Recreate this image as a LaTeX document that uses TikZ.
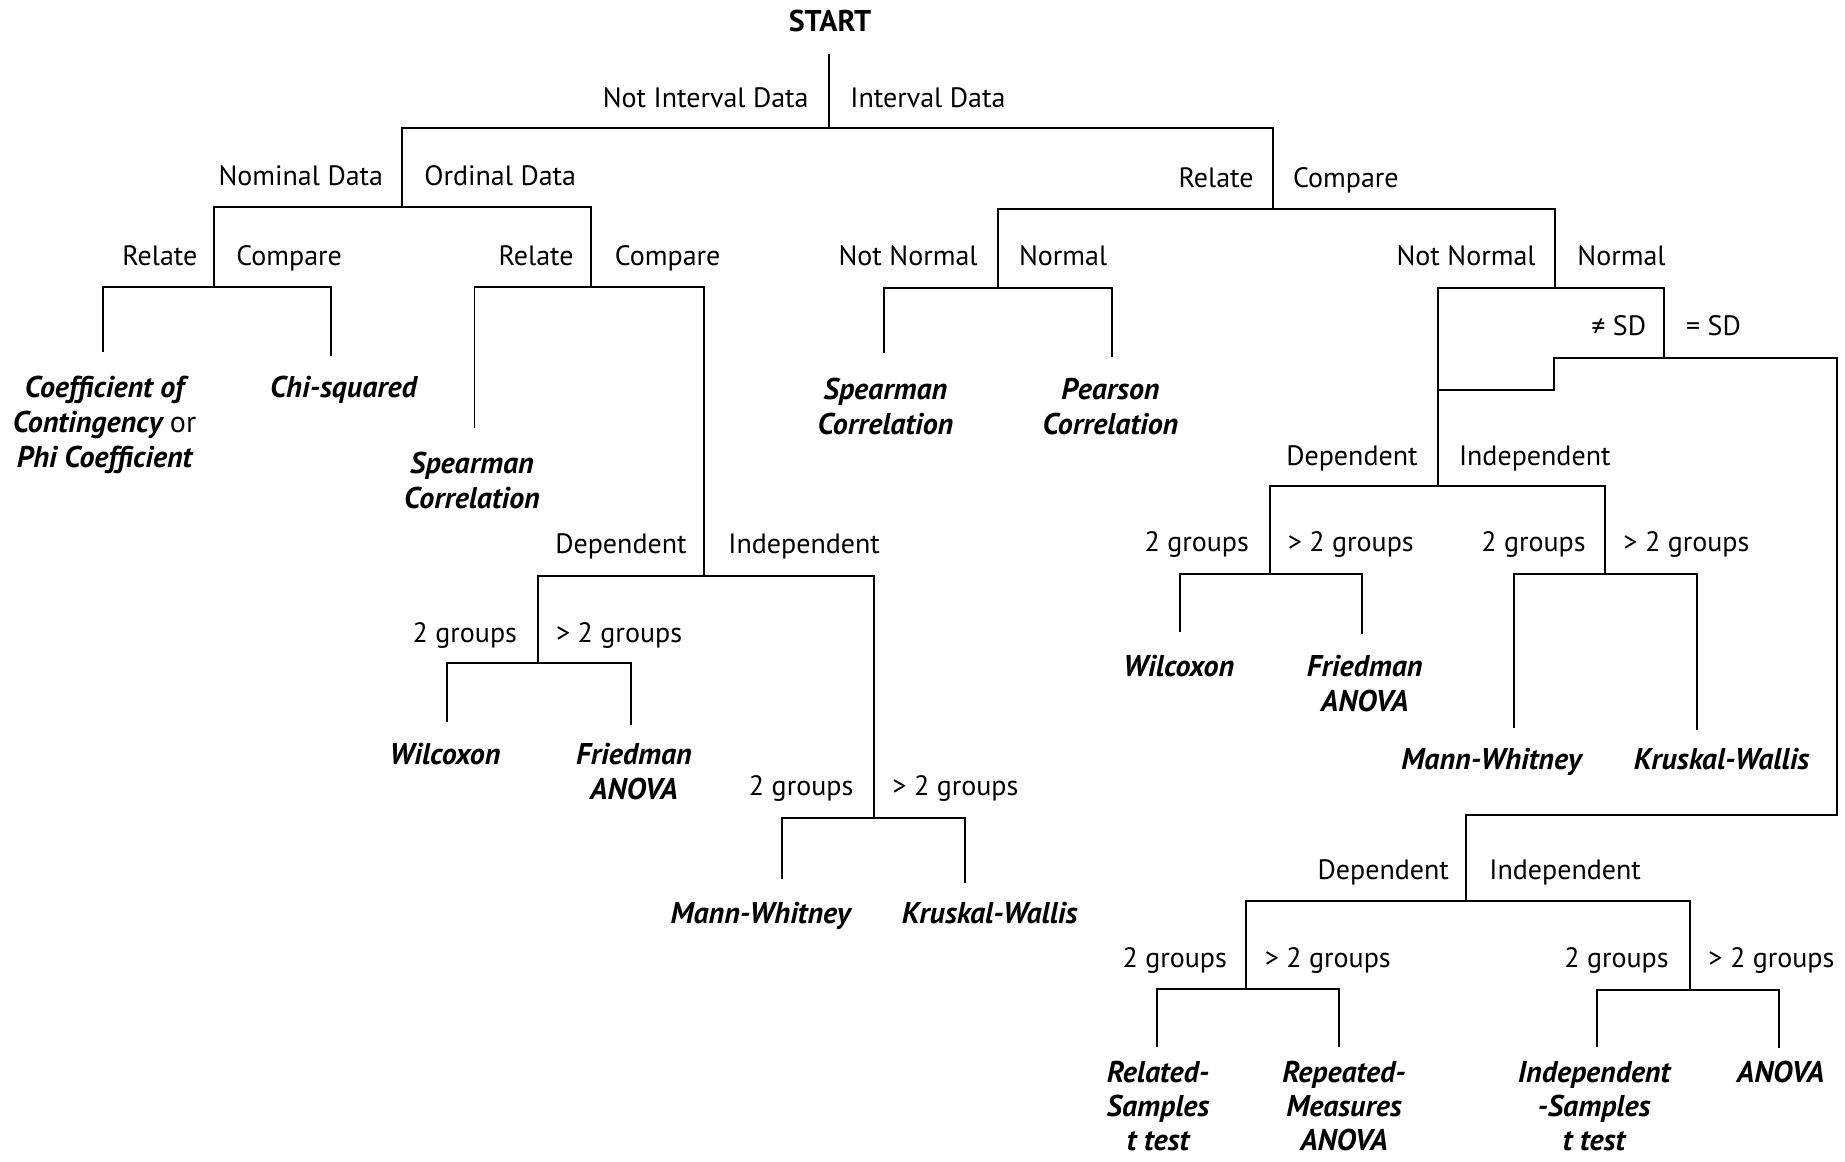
\documentclass[tikz,border=0pt]{standalone}
\usepackage{fontspec}
\setmainfont{PT Sans}
\begin{document}
\begin{tikzpicture}[x=0.5pt,y=-0.5pt,
  ln/.style={line width=0.8pt,line cap=rect},
  lab/.style={inner sep=0pt,font=\fontsize{14}{17.5}\selectfont},
  labL/.style={lab,anchor=base east},
  labR/.style={lab,anchor=base west},
  leaf/.style={inner sep=0pt,anchor=north,align=center,font=\fontsize{15}{17.5}\selectfont\bfseries\itshape},
  ]
\useasboundingbox (0,0) rectangle (1845,1161);
\fill[white] (0,0) rectangle (1845,1161);

% ---------- root ----------
\node[inner sep=0pt,anchor=base,font=\fontsize{15}{17}\selectfont\bfseries] (start) at (830,32) {START};
\coordinate (r0) at (829,55);
\coordinate (r1) at (829,128);
\coordinate (nI) at (402,128);
\coordinate (I) at (1273,128);
\draw[ln] (r0) -- (r1);
\draw[ln] (nI) -- (I);
\node[labL] (lNI) at (809,107) {Not Interval Data};
\node[labR] (lI) at (850,107) {Interval Data};

% ---------- not interval ----------
\coordinate (a1) at (402,207);
\coordinate (nom) at (214,207);
\coordinate (ord) at (591,207);
\draw[ln] (nI) -- (a1);
\draw[ln] (nom) -- (ord);
\node[labL] (lNom) at (383.5,185) {Nominal Data};
\node[labR] (lOrd) at (424,185) {Ordinal Data};

% nominal
\coordinate (nom1) at (214,287);
\coordinate (nomL) at (103,287);
\coordinate (nomR) at (331,287);
\coordinate (cocE) at (103,351);
\coordinate (chiE) at (331,355);
\draw[ln] (nom) -- (nom1);
\draw[ln] (nomL) -- (nomR);
\draw[ln] (nomL) -- (cocE);
\draw[ln] (nomR) -- (chiE);
\node[labL] (lRel1) at (197.7,265) {Relate};
\node[labR] (lCmp1) at (236,265) {Compare};
\node[leaf] (coc) at (104.5,375.5) {Coefficient of\\Contingency {\normalfont or}\\Phi Coefficient};
\node[leaf] (chi) at (343.5,375.5) {Chi-squared};

% ordinal
\coordinate (ord1) at (591,287);
\coordinate (ordL) at (474.5,287);
\coordinate (ordR) at (704,287);
\coordinate (spE1) at (474.5,427);
\coordinate (ordC) at (704,576);
\draw[ln] (ord) -- (ord1);
\draw[ln] (ordL) -- (ordR);
\draw[ln] (ordL) -- (spE1);
\draw[ln] (ordR) -- (ordC);
\node[labL] (lRel2) at (574,265) {Relate};
\node[labR] (lCmp2) at (614.5,265) {Compare};
\node[leaf] (sp1) at (472,451.5) {Spearman\\Correlation};

\coordinate (ocL) at (538,576);
\coordinate (ocR) at (874,576);
\draw[ln] (ocL) -- (ocR);
\node[labL] (lDep1) at (687,553) {Dependent};
\node[labR] (lInd1) at (728,553) {Independent};

\coordinate (ocL1) at (538,663);
\coordinate (wL) at (447,663);
\coordinate (fR) at (631,663);
\coordinate (wE) at (447,721);
\coordinate (fE) at (631,724);
\draw[ln] (ocL) -- (ocL1);
\draw[ln] (wL) -- (fR);
\draw[ln] (wL) -- (wE);
\draw[ln] (fR) -- (fE);
\node[labL] (l2g1) at (517.4,642) {2 groups};
\node[labR] (lm2g1) at (555.7,642) {> 2 groups};
\node[leaf] (w1) at (445,742.5) {Wilcoxon};
\node[leaf] (f1) at (634,742.5) {Friedman\\ANOVA};

\coordinate (ocR1) at (874,818);
\coordinate (mL) at (782,818);
\coordinate (kR) at (965,818);
\coordinate (mE) at (782,878);
\coordinate (kE) at (965,882);
\draw[ln] (ocR) -- (ocR1);
\draw[ln] (mL) -- (kR);
\draw[ln] (mL) -- (mE);
\draw[ln] (kR) -- (kE);
\node[labL] (l2g2) at (853.7,795) {2 groups};
\node[labR] (lm2g2) at (892,795) {> 2 groups};
\node[leaf] (m1) at (760.6,901.5) {Mann-Whitney};
\node[leaf] (k1) at (989.7,901.5) {Kruskal-Wallis};

% ---------- interval ----------
\coordinate (I1) at (1273,209);
\coordinate (rel) at (998,209);
\coordinate (cmp) at (1555,209);
\draw[ln] (I) -- (I1);
\draw[ln] (rel) -- (cmp);
\node[labL] (lRelI) at (1254,187) {Relate};
\node[labR] (lCmpI) at (1292.7,187) {Compare};

% relate
\coordinate (rel1) at (998,288);
\coordinate (spL) at (884,288);
\coordinate (peR) at (1112,288);
\coordinate (spE2) at (884,352);
\coordinate (peE) at (1112,356);
\draw[ln] (rel) -- (rel1);
\draw[ln] (spL) -- (peR);
\draw[ln] (spL) -- (spE2);
\draw[ln] (peR) -- (peE);
\node[labL] (lNN1) at (978,265) {Not Normal};
\node[labR] (lN1) at (1018.6,265) {Normal};
\node[leaf] (sp2) at (885.5,377.5) {Spearman\\Correlation};
\node[leaf] (pe) at (1110.5,377.5) {Pearson\\Correlation};

% compare
\coordinate (cmp1) at (1555,288);
\coordinate (nn) at (1438,288);
\coordinate (nrm) at (1664,288);
\draw[ln] (cmp) -- (cmp1);
\draw[ln] (nn) -- (nrm);
\node[labL] (lNN2) at (1536,265) {Not Normal};
\node[labR] (lN2) at (1577,265) {Normal};

\coordinate (nrm1) at (1664,358);
\coordinate (neq) at (1554,358);
\coordinate (eq) at (1837,358);
\coordinate (neq1) at (1554,390);
\coordinate (nn1) at (1438,390);
\coordinate (nn2) at (1438,486);
\draw[ln] (nrm) -- (nrm1);
\draw[ln] (neq) -- (eq);
\draw[ln] (neq) -- (neq1) -- (nn1);
\draw[ln] (nn) -- (nn2);
\node[labL] (lneq) at (1646.5,335) {≠ SD};
\node[labR] (leq) at (1685.7,335) {= SD};

% not normal / unequal SD
\coordinate (dL) at (1270,486);
\coordinate (dR) at (1605,486);
\draw[ln] (dL) -- (dR);
\node[labL] (lDep2) at (1418,465) {Dependent};
\node[labR] (lInd2) at (1458.6,465) {Independent};

\coordinate (dL1) at (1270,574);
\coordinate (w2L) at (1180,574);
\coordinate (f2R) at (1362,574);
\coordinate (w2E) at (1180,631);
\coordinate (f2E) at (1362,633);
\draw[ln] (dL) -- (dL1);
\draw[ln] (w2L) -- (f2R);
\draw[ln] (w2L) -- (w2E);
\draw[ln] (f2R) -- (f2E);
\node[labL] (l2g3) at (1249.3,551) {2 groups};
\node[labR] (lm2g3) at (1287.4,551) {> 2 groups};
\node[leaf] (w2) at (1178.8,654.5) {Wilcoxon};
\node[leaf] (f2) at (1364.7,654.5) {Friedman\\ANOVA};

\coordinate (dR1) at (1605,574);
\coordinate (m2L) at (1514,574);
\coordinate (k2R) at (1697,574);
\coordinate (m2E) at (1514,727);
\coordinate (k2E) at (1697,729);
\draw[ln] (dR) -- (dR1);
\draw[ln] (m2L) -- (k2R);
\draw[ln] (m2L) -- (m2E);
\draw[ln] (k2R) -- (k2E);
\node[labL] (l2g4) at (1586,551) {2 groups};
\node[labR] (lm2g4) at (1623,551) {> 2 groups};
\node[leaf] (m2) at (1491.5,747.5) {Mann-Whitney};
\node[leaf] (k2) at (1721.5,747.5) {Kruskal-Wallis};

% equal SD
\coordinate (eq1) at (1837,815);
\coordinate (pq) at (1466,815);
\coordinate (pq1) at (1466,901);
\draw[ln] (eq) -- (eq1) -- (pq);
\draw[ln] (pq) -- (pq1);
\coordinate (tL) at (1246,901);
\coordinate (tR) at (1690,901);
\draw[ln] (tL) -- (tR);
\node[labL] (lDep3) at (1449.3,879) {Dependent};
\node[labR] (lInd3) at (1489,879) {Independent};

\coordinate (tL1) at (1246,989);
\coordinate (rsL) at (1157,989);
\coordinate (rmR) at (1339,989);
\coordinate (rsE) at (1157,1046);
\coordinate (rmE) at (1339,1046);
\draw[ln] (tL) -- (tL1);
\draw[ln] (rsL) -- (rmR);
\draw[ln] (rsL) -- (rsE);
\draw[ln] (rmR) -- (rmE);
\node[labL] (l2g5) at (1227.3,967) {2 groups};
\node[labR] (lm2g5) at (1264.4,967) {> 2 groups};
\node[leaf,font=\fontsize{15}{17}\selectfont\bfseries\itshape] (rs) at (1158,1061) {Related-\\Samples\\t test};
\node[leaf,font=\fontsize{15}{17}\selectfont\bfseries\itshape] (rm) at (1344,1061) {Repeated-\\Measures\\ANOVA};

\coordinate (tR1) at (1690,990);
\coordinate (isL) at (1597,990);
\coordinate (anR) at (1779,990);
\coordinate (isE) at (1597,1046);
\coordinate (anE) at (1779,1047);
\draw[ln] (tR) -- (tR1);
\draw[ln] (isL) -- (anR);
\draw[ln] (isL) -- (isE);
\draw[ln] (anR) -- (anE);
\node[labL] (l2g6) at (1669,967) {2 groups};
\node[labR] (lm2g6) at (1708,967) {> 2 groups};
\node[leaf,font=\fontsize{15}{17}\selectfont\bfseries\itshape] (is) at (1594,1061) {Independent\\-Samples\\t test};
\node[leaf] (an) at (1780.6,1061) {ANOVA};
\end{tikzpicture}
\end{document}
